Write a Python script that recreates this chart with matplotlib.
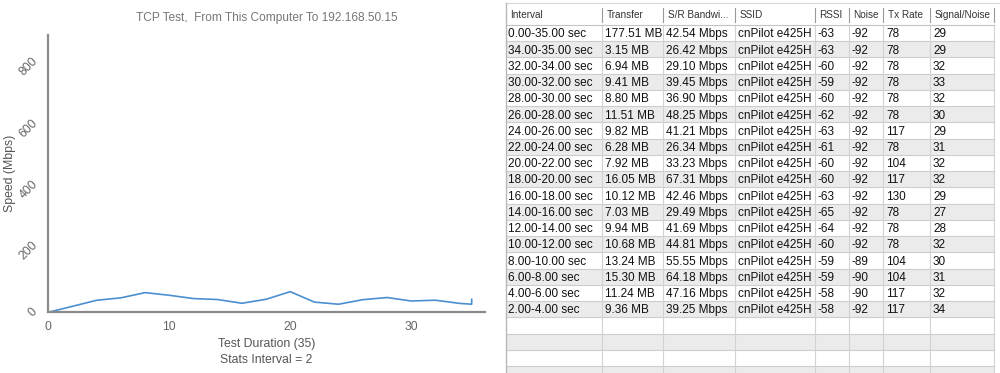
import matplotlib.pyplot as plt
from matplotlib.patches import Rectangle

plt.rcParams['font.family'] = ['Liberation Sans', 'DejaVu Sans']

# table data (as shown, newest interval first, total on top)
intervals = ['0.00-35.00 sec', '34.00-35.00 sec', '32.00-34.00 sec', '30.00-32.00 sec',
             '28.00-30.00 sec', '26.00-28.00 sec', '24.00-26.00 sec', '22.00-24.00 sec',
             '20.00-22.00 sec', '18.00-20.00 sec', '16.00-18.00 sec', '14.00-16.00 sec',
             '12.00-14.00 sec', '10.00-12.00 sec', '8.00-10.00 sec', '6.00-8.00 sec',
             '4.00-6.00 sec', '2.00-4.00 sec']
transfer = ['177.51 MB', '3.15 MB', '6.94 MB', '9.41 MB', '8.80 MB', '11.51 MB', '9.82 MB',
            '6.28 MB', '7.92 MB', '16.05 MB', '10.12 MB', '7.03 MB', '9.94 MB', '10.68 MB',
            '13.24 MB', '15.30 MB', '11.24 MB', '9.36 MB']
bandwidth = [42.54, 26.42, 29.10, 39.45, 36.90, 48.25, 41.21, 26.34, 33.23, 67.31,
             42.46, 29.49, 41.69, 44.81, 55.55, 64.18, 47.16, 39.25]
ssid = ['cnPilot e425H'] * 18
rssi = [-63, -63, -60, -59, -60, -62, -63, -61, -60, -60, -63, -65, -64, -60, -59, -59, -58, -58]
noise = [-92, -92, -92, -92, -92, -92, -92, -92, -92, -92, -92, -92, -92, -92, -89, -90, -90, -92]
tx_rate = [78, 78, 78, 78, 78, 78, 117, 78, 104, 117, 130, 78, 78, 78, 104, 104, 117, 117]
snr = [29, 29, 32, 33, 32, 30, 29, 31, 32, 32, 29, 27, 28, 32, 30, 31, 32, 34]

headers = ['Interval', 'Transfer', 'S/R Bandwi...', 'SSID', 'RSSI', 'Noise', 'Tx Rate', 'Signal/Noise']
col_edges = [505.5, 602, 663, 735, 815, 849, 883, 930, 994]

fig = plt.figure(figsize=(10, 3.73), dpi=100)

# ---- table, drawn in pixel coordinates ----
tab = fig.add_axes([0, 0, 1, 1])
tab.set_xlim(0, 1000)
tab.set_ylim(373, 0)
tab.axis('off')

top = 25
pitch = 16.24
n_rows = 22
for i in range(n_rows):
    y0 = top + i * pitch
    if i % 2 == 1:
        tab.add_patch(Rectangle((col_edges[0], y0), col_edges[-1] - col_edges[0], pitch,
                                color='#ebebeb', lw=0))
    tab.plot([col_edges[0], col_edges[-1]], [y0 + pitch, y0 + pitch], color='#cdcdcd', lw=0.8)
for x in col_edges[1:]:
    tab.plot([x, x], [top, 373], color='#d2d2d2', lw=0.8)
tab.plot([col_edges[0], 1000], [3, 3], color='#d8d8d8', lw=0.8)
tab.plot([col_edges[0], col_edges[-1]], [top, top], color='#c4c4c4', lw=0.8)
tab.plot([col_edges[0], col_edges[0]], [3, 373], color='#b8b8b8', lw=1.0)

for j, h in enumerate(headers):
    tab.text(col_edges[j] + 4.5, 15, h, fontsize=7.2, color='#333333', va='center')
    tab.plot([col_edges[j + 1], col_edges[j + 1]], [8, 22], color='#9a9a9a', lw=0.8)

rows = list(zip(intervals, transfer, [f'{b:.2f} Mbps' for b in bandwidth], ssid,
                [str(v) for v in rssi], [str(v) for v in noise],
                [str(v) for v in tx_rate], [str(v) for v in snr]))
for i, row in enumerate(rows):
    yc = top + (i + 0.5) * pitch + 1.2
    for j, val in enumerate(row):
        tab.text(col_edges[j] + 3, yc, val, fontsize=8.5, color='#111111', va='center')

# ---- chart ----
ax = fig.add_axes([0.0483, 0.1627, 0.4367, 0.7435])
# points at interval end times, oldest first, then the total
ends = [0] + [float(s.split('-')[1].split()[0]) for s in intervals[1:][::-1]] + [35]
speeds = [0] + bandwidth[1:][::-1] + [bandwidth[0]]
ax.plot(ends, speeds, color='#4b8fd0', lw=1.2)

ax.set_xlim(0, 36.1)
ax.set_ylim(0, 904)
ax.set_xticks([0, 10, 20, 30])
ax.set_yticks([0, 200, 400, 600, 800])
for s in ['top', 'right']:
    ax.spines[s].set_visible(False)
for s in ['left', 'bottom']:
    ax.spines[s].set_color('#8a8a8a')
    ax.spines[s].set_linewidth(1.6)
ax.tick_params(length=0, labelsize=8.8, labelcolor='#666666')
ax.tick_params(axis='x', pad=6)
ax.tick_params(axis='y', pad=6)
for lab in ax.get_yticklabels():
    lab.set_rotation(45)
    lab.set_va('center')
    lab.set_ha('right')
ax.set_title('TCP Test,  From This Computer To 192.168.50.15', fontsize=8.6,
             color='#777777', pad=10)
ax.set_xlabel('Test Duration (35)\nStats Interval = 2', fontsize=8.8, color='#555555',
              linespacing=1.4, labelpad=4)
ax.set_ylabel('Speed (Mbps)', fontsize=8.8, color='#555555')
ax.yaxis.set_label_coords(-0.074, 0.5)

fig.savefig('out.png', dpi=100)
